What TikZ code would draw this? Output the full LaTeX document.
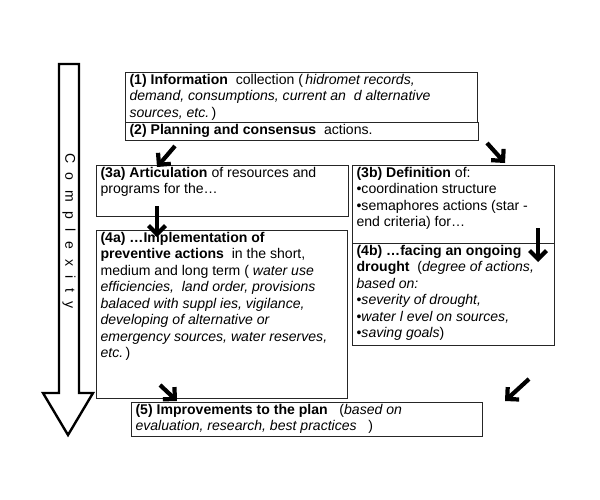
\documentclass[tikz,border=0pt]{standalone}
\usepackage{fontspec}
\setmainfont{Liberation Sans}
\usetikzlibrary{arrows.meta}

% text of a stage box: width, height, lines
\newcommand{\boxtext}[3]{\parbox[t][#2][t]{#1}{\raggedright #3}}

\begin{document}
\begin{tikzpicture}[
  x=0.025cm, y=-0.025cm,
  stage/.style={draw=black!85, line width=0.8pt, anchor=north west, inner xsep=0.1cm, inner ysep=0.04cm, font=\fontsize{10}{11.7}\selectfont},
  push/.style={-{Straight Barb[length=6pt, width=12pt]}, line width=3pt},
  grow label/.style={rotate=-90, font=\fontsize{10}{12}\selectfont}
]
  \useasboundingbox (0,0) rectangle (600,500);

  % Complexity arrow (left side)
  \draw[line width=1.7pt, fill=white]
    (59,64) -- (79,64) -- (79,393) -- (93,393) -- (68,435) -- (43,393) -- (59,393) -- cycle;
  \node[grow label] (cplx) at (69,231) {\spaceskip=0.24cm\relax C o m p l e x i t y};

  % Stages
  \node[stage] (s1) at (125,72) {\boxtext{8.6cm}{1.17cm}{%
    \textbf{(1) Information}\ \ collection (\,\textit{hidromet records,}\\
    \textit{demand, consumptions, current an\ \ d alternative}\\
    \textit{sources, etc.}\,)}};
  \node[stage] (s2) at (125,122) {\boxtext{8.625cm}{0.37cm}{%
    \textbf{(2) Planning and consensus}\ \ actions.}};
  \node[stage] (s3a) at (96,165) {\boxtext{6.1cm}{1.195cm}{%
    \textbf{(3a) Articulation}\ of resources and\\
    programs for the…}};
  \node[stage] (s4a) at (96,230) {\boxtext{6.075cm}{4.12cm}{%
    \textbf{(4a) …Implementation of}\\
    \textbf{preventive actions}\ \ in the short,\\
    medium and long term (\ \textit{water use}\\
    \textit{efficiencies,\ \ land order, provisions}\\
    \textit{balaced with suppl ies, vigilance,}\\
    \textit{developing of alternative or}\\
    \textit{emergency sources, water reserves,}\\
    \textit{etc.}\,)}};
  \node[stage] (s3b) at (352,165) {\boxtext{4.85cm}{1.87cm}{%
    \textbf{(3b) Definition}\ of:\\
    •coordination structure\\
    •semaphores actions (star -\\
    end criteria) for…}};
  \node[stage] (s4b) at (352,243) {\boxtext{4.85cm}{2.47cm}{%
    \textbf{(4b) …facing an ongoing}\\
    \textbf{drought}\ \ (\textit{degree of actions,}\\
    \textit{based on:}\\
    •\textit{severity of drought,}\\
    •\textit{water l evel on sources,}\\
    •\textit{saving goals})}};
  \node[stage] (s5) at (131,402) {\boxtext{8.575cm}{0.77cm}{%
    \textbf{(5) Improvements to the plan}\ \ \ (\textit{based on}\\
    \textit{evaluation, research, best practices}\ \ \ )}};

  % Arrow ends
  \coordinate (a1) at (175,146);  \coordinate (a1e) at (157,167);
  \coordinate (a2) at (487,143);  \coordinate (a2e) at (505,163);
  \coordinate (a3) at (157,206);  \coordinate (a3e) at (157,237);
  \coordinate (a4) at (538,228);  \coordinate (a4e) at (538,262);
  \coordinate (a5) at (160,385);  \coordinate (a5e) at (177,401);
  \coordinate (a6) at (529,379);  \coordinate (a6e) at (505,401);

  \draw[push] (a1) -- (a1e);
  \draw[push] (a2) -- (a2e);
  \draw[push] (a3) -- (a3e);
  \draw[push] (a4) -- (a4e);
  \draw[push] (a5) -- (a5e);
  \draw[push] (a6) -- (a6e);
\end{tikzpicture}
\end{document}
